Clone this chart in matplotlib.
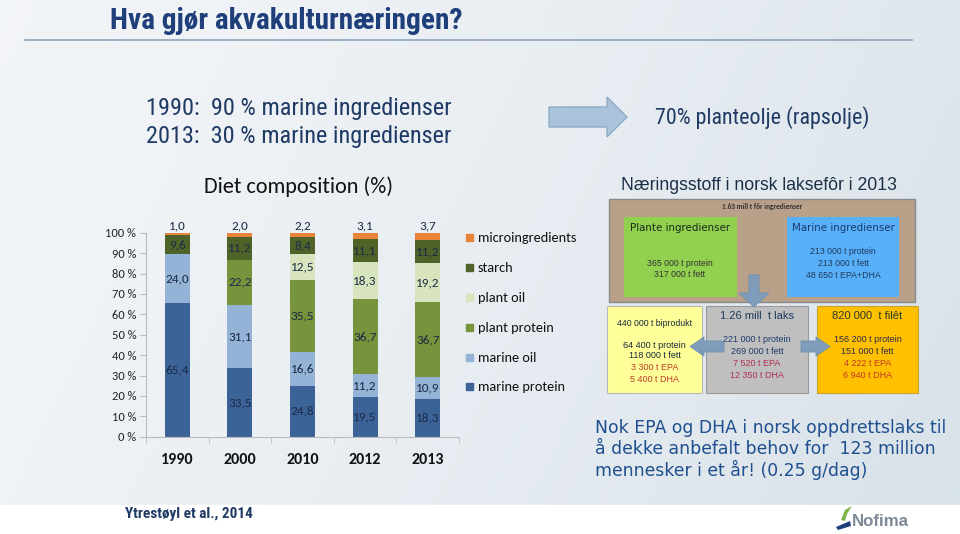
import numpy as np
import matplotlib
matplotlib.use("Agg")
import matplotlib.pyplot as plt
from matplotlib import font_manager as fm
from matplotlib.patches import Rectangle, Polygon

# ---------------- data ----------------
years = ["1990", "2000", "2010", "2012", "2013"]
series_names = ["marine protein", "marine oil", "plant protein", "plant oil", "starch", "microingredients"]
marine_protein = [65.4, 33.5, 24.8, 19.5, 18.3]
marine_oil = [24.0, 31.1, 16.6, 11.2, 10.9]
plant_protein = [0.0, 22.2, 35.5, 36.7, 36.7]
plant_oil = [0.0, 0.0, 12.5, 18.3, 19.2]
starch = [9.6, 11.2, 8.4, 11.1, 11.2]
microingredients = [1.0, 2.0, 2.2, 3.1, 3.7]
series_values = [marine_protein, marine_oil, plant_protein, plant_oil, starch, microingredients]
series_colors = ["#3b6398", "#95b3d7", "#77933c", "#d7e4bd", "#4f6228", "#e8833a"]
ytick_values = [0, 10, 20, 30, 40, 50, 60, 70, 80, 90, 100]
ytick_labels = [f"{v} %" for v in ytick_values]

names = {f.name for f in fm.fontManager.ttflist}
NARROW = None
for cand in ["Liberation Sans Narrow", "Roboto Condensed", "Open Sans Condensed",
             "Noto Sans Condensed", "Noto Sans Display Condensed"]:
    if cand in names:
        NARROW = cand
        break
HAS_NARROW = NARROW is not None
if NARROW is None:
    NARROW = "Liberation Sans"
CAL = "Carlito" if "Carlito" in names else "Lato"
ARIAL = "Liberation Sans"
NAVY = "#1f3a64"

def nsize(s):
    # compensate width when no narrow font is available
    return s if HAS_NARROW else s * 0.85

W, H = 960, 534
fig = plt.figure(figsize=(W / 100, H / 100), dpi=100)

# ---------------- background ----------------
bg = fig.add_axes([0, 0, 1, 1])
bg.set_xlim(0, W)
bg.set_ylim(H, 0)
bg.axis("off")
gx = np.linspace(0, 1, 256)
gy = np.linspace(0, 1, 64)
GX, GY = np.meshgrid(gx, gy)
c1 = np.array([0.950, 0.961, 0.972])
c2 = np.array([0.850, 0.886, 0.915])
t = np.clip(0.8 * GX + 0.2 * GY, 0, 1)[..., None] ** 1.3
img = c1 * (1 - t) + c2 * t
bg.imshow(img, extent=(0, W, 505, 0), aspect="auto", zorder=0)
bg.add_patch(Rectangle((0, 505), W, H - 505, color="white", zorder=0))

# title
bg.plot([25, 912], [40, 40], color="#8ea3b8", lw=1.2, zorder=1)
bg.text(110, 21, "Hva gjør akvakulturnæringen?", family=NARROW, fontsize=nsize(21.2),
        fontweight="bold", color="#1f3f7a", va="center", ha="left", zorder=2)

bg.text(146, 108, "1990:  90 % marine ingredienser", family=NARROW, fontsize=nsize(17.5),
        color=NAVY, va="center", ha="left")
bg.text(146, 137, "2013:  30 % marine ingredienser", family=NARROW, fontsize=nsize(17.5),
        color=NAVY, va="center", ha="left")
bg.add_patch(Polygon([(549, 107), (607, 107), (607, 97), (627, 117), (607, 137),
                      (607, 127), (549, 127)], closed=True, facecolor="#a9c4da",
                     edgecolor="#8eabc5", lw=1, zorder=2))
bg.text(655, 118, "70% planteolje (rapsolje)", family=NARROW, fontsize=nsize(15.8),
        color=NAVY, va="center", ha="left")

bg.text(298, 187, "Diet composition (%)", family=CAL, fontsize=16,
        color="#111111", va="center", ha="center")
bg.text(125, 514, "Ytrestøyl et al., 2014", family=NARROW, fontsize=nsize(11),
        fontweight="bold", color=NAVY, va="center", ha="left")

# ---------------- stacked bar chart ----------------
ax = fig.add_axes([146 / W, 1 - 436.7 / H, (459 - 146) / W, (436.7 - 232.7) / H])
ax.set_facecolor("none")
x = np.arange(len(years))
bottom = np.zeros(len(years))
for name, vals, col in zip(series_names, series_values, series_colors):
    vals = np.array(vals)
    ax.bar(x, vals, bottom=bottom, width=0.4, color=col, label=name, zorder=2)
    for xi, b, v in zip(x, bottom, vals):
        if v <= 0:
            continue
        lab = f"{v:.1f}".replace(".", ",")
        if name == "microingredients":
            ax.text(xi, 100.4, lab, ha="center", va="bottom", fontsize=9.5,
                    family=CAL, color="#1c2a48")
        else:
            ax.text(xi, b + v / 2, lab, ha="center", va="center", fontsize=9.5,
                    family=CAL, color="#1c2a48")
    bottom = bottom + vals

ax.set_xlim(-0.5, len(years) - 0.5)
ax.set_ylim(0, 100)
ax.set_yticks(ytick_values)
ax.set_yticklabels(ytick_labels, family=CAL, fontsize=9, color="#222222")
ax.set_xticks(x)
ax.set_xticklabels(years, family=CAL, fontsize=11.5, fontweight="bold", color="#111111")
ax.set_xticks(np.arange(len(years) + 1) - 0.5, minor=True)
ax.tick_params(axis="x", which="major", length=0, pad=12)
ax.tick_params(axis="x", which="minor", length=4, color="#bbbbbb", direction="out")
ax.tick_params(axis="y", length=4, color="#bbbbbb", pad=3)
for s in ["top", "right"]:
    ax.spines[s].set_visible(False)
ax.spines["left"].set_color("#bbbbbb")
ax.spines["bottom"].set_color("#bbbbbb")

# legend (manual, reversed order)
leg_y = [238, 268, 298, 328, 358, 387]
for yy, name, col in zip(leg_y, series_names[::-1], series_colors[::-1]):
    bg.add_patch(Rectangle((466, yy - 4), 7, 7, color=col, zorder=3))
    bg.text(478, yy, name, family=CAL, fontsize=10.3, color="#111111",
            va="center", ha="left")

# ---------------- right side diagram ----------------
bg.text(621, 185, "Næringsstoff i norsk laksefôr i 2013", family=ARIAL, fontsize=12.7,
        color="#1c3048", va="center", ha="left")
bg.add_patch(Rectangle((609, 199), 306, 103, facecolor="#b9a089", edgecolor="#8a8a8a", lw=1, zorder=2))
bg.text(762, 207, "1.63 mill t fôr ingredienser", family=CAL, fontsize=5.2, fontweight="bold",
        color="#333333", ha="center", va="center", zorder=3)
bg.add_patch(Rectangle((624, 217), 113, 80, facecolor="#92d050", edgecolor="none", zorder=3))
bg.text(680, 228, "Plante ingredienser", family="DejaVu Sans", fontsize=7.4, color="#1a2a1a",
        ha="center", va="center", zorder=4)
bg.text(680, 264, "365 000 t protein", family=ARIAL, fontsize=6.3, color="#333333",
        ha="center", va="center", zorder=4)
bg.text(680, 274.5, "317 000 t fett", family=ARIAL, fontsize=6.3, color="#333333",
        ha="center", va="center", zorder=4)
bg.add_patch(Rectangle((787, 217), 112, 80, facecolor="#58b0fa", edgecolor="none", zorder=3))
bg.text(843, 228, "Marine ingredienser", family="DejaVu Sans", fontsize=7.4, color="#1a3a6a",
        ha="center", va="center", zorder=4)
for yy, s in zip([252, 263, 275], ["213 000 t protein", "213 000 t fett", "48 650 t EPA+DHA"]):
    bg.text(843, yy, s, family=ARIAL, fontsize=6.3, color="#1f3a5a", ha="center",
            va="center", zorder=4)

# down arrow
bg.add_patch(Polygon([(749, 275), (759, 275), (759, 293), (769, 293), (754, 307),
                      (739, 293), (749, 293)], closed=True, facecolor="#7f9dba",
                     edgecolor="#6f8fae", lw=0.6, zorder=5))

# bottom boxes
bg.add_patch(Rectangle((607, 306), 95, 87, facecolor="#ffff99", edgecolor="#b8b8b8", lw=0.8, zorder=2))
bg.add_patch(Rectangle((706, 306), 102, 87, facecolor="#bfbfbf", edgecolor="#9a9a9a", lw=0.8, zorder=2))
bg.add_patch(Rectangle((817, 306), 101, 87, facecolor="#ffc000", edgecolor="#c8a030", lw=0.8, zorder=2))

bg.text(654.5, 323, "440 000 t biprodukt", family=ARIAL, fontsize=6.3, color="#1a2a3a",
        ha="center", va="center", zorder=4)
for yy, s, c in zip([345, 356, 367, 379],
                    ["64 400 t protein", "118 000 t fett", "3 300 t EPA", "5 400 t DHA"],
                    ["#1a2a3a", "#1a2a3a", "#c0392b", "#c0392b"]):
    bg.text(654.5, yy, s, family=ARIAL, fontsize=6.5, color=c, ha="center", va="center", zorder=4)

bg.text(757, 316, "1.26 mill  t laks", family=ARIAL, fontsize=8, color="#1f3a5f",
        ha="center", va="center", zorder=4)
for yy, s, c in zip([340, 352, 363, 375],
                    ["221 000 t protein", "269 000 t fett", "7 520 t EPA", "12 350 t DHA"],
                    ["#1f3a6a", "#1f3a6a", "#b03050", "#b03050"]):
    bg.text(757, yy, s, family=ARIAL, fontsize=6.5, color=c, ha="center", va="center", zorder=4)

bg.text(867.5, 316, "820 000  t filêt", family=ARIAL, fontsize=8, color="#2a3a2a",
        ha="center", va="center", zorder=4)
for yy, s, c in zip([340, 352, 363, 375],
                    ["156 200 t protein", "151 000 t fett", "4 222 t EPA", "6 940 t DHA"],
                    ["#2a2a4a", "#2a2a4a", "#c0392b", "#c0392b"]):
    bg.text(867.5, yy, s, family=ARIAL, fontsize=6.5, color=c, ha="center", va="center", zorder=4)

# side arrows
bg.add_patch(Polygon([(724, 341), (704, 341), (704, 337), (690, 346.5), (704, 356),
                      (704, 352), (724, 352)], closed=True, facecolor="#7f9dba",
                     edgecolor="#6f8fae", lw=0.6, zorder=5))
bg.add_patch(Polygon([(801, 341), (816, 341), (816, 337), (830, 346.5), (816, 356),
                      (816, 352), (801, 352)], closed=True, facecolor="#7f9dba",
                     edgecolor="#6f8fae", lw=0.6, zorder=5))

# bottom statement
for yy, s in zip([428, 449, 470], ["Nok EPA og DHA i norsk oppdrettslaks til",
                                   "å dekke anbefalt behov for  123 million",
                                   "mennesker i et år! (0.25 g/dag)"]):
    bg.text(595, yy, s, family="DejaVu Sans", fontsize=12.4, color="#1f4f8f",
            ha="left", va="center")

# Nofima logo
bg.add_patch(Polygon([(836, 527), (850, 521), (851, 526), (838, 530)], closed=True,
                     facecolor="#1f3f7a", edgecolor="none", zorder=3))
bg.add_patch(Polygon([(841, 520), (845, 510), (852, 506), (847, 514), (845, 521)], closed=True,
                     facecolor="#7ab648", edgecolor="none", zorder=3))
bg.text(852, 521, "Nofima", family="Liberation Sans", fontsize=12.2, fontweight="bold",
        color="#7d8996", ha="left", va="center")

fig.savefig("out.png", dpi=100)
